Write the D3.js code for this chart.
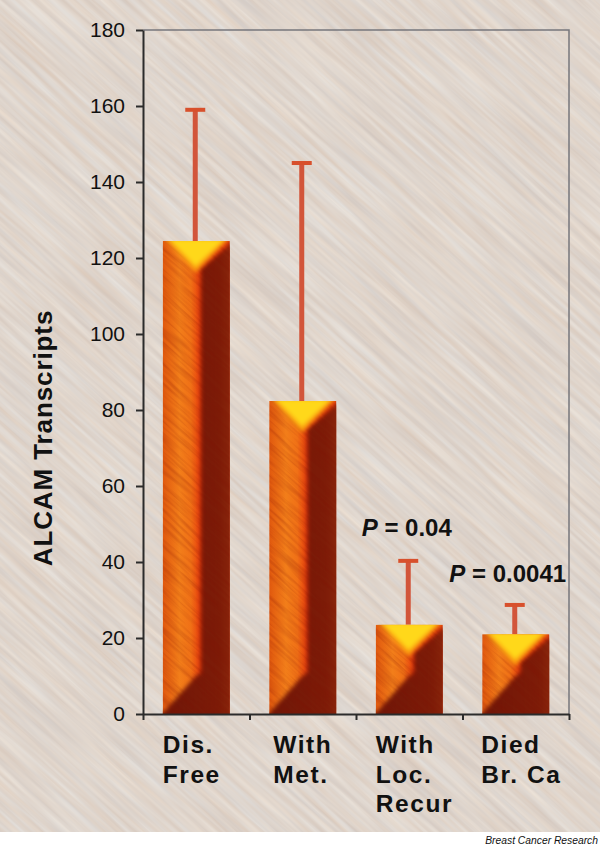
<!DOCTYPE html>
<html>
<head>
<meta charset="utf-8">
<script src="https://cdn.jsdelivr.net/npm/d3@7"></script>
<style>
	html, body { margin: 0; padding: 0; background: #fff; }
	svg { display: block; }
	text { font-family: "Liberation Sans", Arial, sans-serif; fill: #111; }
	filter { color-interpolation-filters: sRGB; }
</style>
</head>
<body>
<div id="chart"></div>
<script>
var categories = ["Dis. Free", "With Met.", "With Loc. Recur", "Died Br. Ca"];
var labelLines = [["Dis.", "Free"], ["With", "Met."], ["With", "Loc.", "Recur"], ["Died", "Br. Ca"]];
var labelShift = [0, 4, 0, -1];
var means = [124.5, 82.4, 23.5, 21];
var errorTops = [159, 145, 40.3, 28.7];
var yTicks = [0, 20, 40, 60, 80, 100, 120, 140, 160, 180];
var pLabels = [null, null, "0.04", "0.0041"];
var pShift = [0, 0, -2.5, -8];

var width = 600, height = 845, paperBottom = 832;
var margin = {top: 30, right: 31, bottom: 131, left: 143};
var innerW = width - margin.left - margin.right;
var innerH = height - margin.top - margin.bottom;

var svg = d3.select("#chart").append("svg")
	.attr("width", width)
	.attr("height", height);

var defs = svg.append("defs");

//streaky paper, turbulence stretched along one axis and then rotated
var paper = defs.append("filter").attr("id", "paper")
	.attr("filterUnits", "userSpaceOnUse")
	.attr("x", -700).attr("y", -700).attr("width", 1800).attr("height", 1800);
paper.append("feTurbulence")
	.attr("type", "fractalNoise")
	.attr("baseFrequency", "0.009 0.2")
	.attr("numOctaves", 3)
	.attr("seed", 4);
paper.append("feColorMatrix")
	.attr("type", "matrix")
	.attr("values", "0.10 0.05 0 0 0.80  0.13 0 0 0 0.77  0.14 -0.05 0 0 0.755  0 0 0 0 1");

var streak = defs.append("filter").attr("id", "streak")
	.attr("filterUnits", "userSpaceOnUse")
	.attr("x", -700).attr("y", -700).attr("width", 1800).attr("height", 1800);
streak.append("feTurbulence")
	.attr("type", "fractalNoise")
	.attr("baseFrequency", "0.02 0.35")
	.attr("numOctaves", 2)
	.attr("seed", 9);
streak.append("feColorMatrix")
	.attr("type", "matrix")
	.attr("values", "0 0 0 0 0.5  0 0 0 0 0.06  0 0 0 0 0  2.6 0 0 0 -1.05");

defs.append("filter").attr("id", "soft")
	.attr("x", "-30%").attr("y", "-30%").attr("width", "160%").attr("height", "160%")
	.append("feGaussianBlur").attr("stdDeviation", 2);

var orange = defs.append("linearGradient").attr("id", "orangeFace")
	.attr("x1", 0).attr("x2", 1).attr("y1", 0).attr("y2", 0);
orange.append("stop").attr("offset", "0%").attr("stop-color", "#e0580e");
orange.append("stop").attr("offset", "25%").attr("stop-color", "#f27e1a");
orange.append("stop").attr("offset", "42%").attr("stop-color", "#f07016");
orange.append("stop").attr("offset", "58%").attr("stop-color", "#e6380c");

var dark = defs.append("linearGradient").attr("id", "darkFace")
	.attr("x1", 0).attr("x2", 1).attr("y1", 0).attr("y2", 0);
dark.append("stop").attr("offset", "0%").attr("stop-color", "#6e1608");
dark.append("stop").attr("offset", "80%").attr("stop-color", "#7e1c08");
dark.append("stop").attr("offset", "100%").attr("stop-color", "#902c0e");

svg.append("rect")
	.attr("width", width).attr("height", paperBottom)
	.attr("fill", "#dcd4cc");
defs.append("clipPath").attr("id", "paperClip")
	.append("rect").attr("width", width).attr("height", paperBottom);
svg.append("g").attr("clip-path", "url(#paperClip)")
	.append("g").attr("transform", "rotate(42)")
	.append("rect")
	.attr("x", -700).attr("y", -700).attr("width", 1800).attr("height", 1800)
	.attr("filter", "url(#paper)");

var x = d3.scaleBand().domain(categories).range([0, innerW])
	.paddingInner(0.37).paddingOuter(0.185);
var xEdges = d3.scaleLinear().domain([0, categories.length]).range([0, innerW]);
var y = d3.scaleLinear().domain([0, 180]).range([innerH, 0]);

var g = svg.append("g")
	.attr("transform", "translate(" + margin.left + "," + margin.top + ")");

//frame top and right
g.append("path")
	.attr("d", "M0,0H" + innerW + "V" + innerH)
	.attr("fill", "none")
	.attr("stroke", "#77777c")
	.attr("stroke-width", 1.5);

//error bars go under the bar
var errs = g.selectAll(".err").data(categories).enter().append("g").attr("class", "err");
errs.append("line")
	.attr("x1", function(d) { return x(d) + x.bandwidth() / 2 - 1; })
	.attr("x2", function(d) { return x(d) + x.bandwidth() / 2 - 1; })
	.attr("y1", function(d, i) { return y(means[i]); })
	.attr("y2", function(d, i) { return y(errorTops[i]); })
	.attr("stroke", "#d2553a")
	.attr("stroke-width", 5);
errs.append("line")
	.attr("x1", function(d) { return x(d) + x.bandwidth() / 2 - 11; })
	.attr("x2", function(d) { return x(d) + x.bandwidth() / 2 + 9; })
	.attr("y1", function(d, i) { return y(errorTops[i]); })
	.attr("y2", function(d, i) { return y(errorTops[i]); })
	.attr("stroke", "#d8502c")
	.attr("stroke-width", 4);

var bars = g.selectAll(".bar").data(categories).enter().append("g").attr("class", "bar");

bars.each(function(d, i) {
	var bar = d3.select(this);
	var x0 = x(d), w = x.bandwidth(), x1 = x0 + w, mid = x0 + w * 0.57;
	var top = y(means[i]), bot = y(0);
	var clipId = "barClip" + i;
	var pts = function(list) { return list.map(function(p) { return p.join(","); }).join(" "); };

	defs.append("clipPath").attr("id", clipId)
		.append("rect").attr("x", x0).attr("y", top).attr("width", w).attr("height", bot - top);

	var inner = bar.append("g").attr("clip-path", "url(#" + clipId + ")");
	inner.append("rect")
		.attr("x", x0).attr("y", top).attr("width", w).attr("height", bot - top)
		.attr("fill", "url(#orangeFace)");

	//dark right side and the dark foot under the orange face
	inner.append("polygon")
		.attr("filter", "url(#soft)")
		.attr("points", pts([[mid, top + w * 0.42], [x1 + 6, top - 2], [x1 + 6, bot + 6], [x0 - 6, bot + 6], [x0 + w * 0.48, bot - w * 0.55], [mid, bot - w * 0.62]]))
		.attr("fill", "url(#darkFace)");

	inner.append("g").attr("transform", "rotate(42)")
		.append("rect")
		.attr("x", -700).attr("y", -700).attr("width", 1800).attr("height", 1800)
		.attr("filter", "url(#streak)")
		.attr("opacity", 0.2);

	//yellow wedge stays clean, on top of the streaks
	var wedge = inner.append("g").attr("filter", "url(#soft)");
	wedge.append("polygon")
		.attr("points", pts([[x0 + 1, top - 4], [x1 + 1, top - 4], [x0 + w * 0.49, top + w * 0.47]]))
		.attr("fill", "#fa9e10");
	wedge.append("polygon")
		.attr("points", pts([[x0 + 6, top - 2], [x1 - 5, top - 2], [x0 + w * 0.49, top + w * 0.38]]))
		.attr("fill", "#ffd81a");
});

//axes
var yAxis = d3.axisLeft(y).tickValues(yTicks).tickSize(7).tickPadding(11).tickSizeOuter(0);
var xAxis = d3.axisBottom(xEdges).ticks(categories.length).tickSize(6)
	.tickFormat("").tickSizeOuter(0);

var yG = g.append("g").call(yAxis);
yG.selectAll("path, line").attr("stroke", "#2b2b2b").attr("stroke-width", 2);
yG.selectAll("text").style("font-size", "21px").attr("fill", "#111");

var xG = g.append("g").attr("transform", "translate(0," + innerH + ")").call(xAxis);
xG.selectAll("path, line").attr("stroke", "#2b2b2b").attr("stroke-width", 2);

//category labels
g.selectAll(".cat").data(categories).enter().append("text")
	.attr("class", "cat")
	.attr("y", innerH + 39)
	.attr("font-size", 24.5)
	.attr("font-weight", "bold")
	.attr("letter-spacing", 1.6)
	.each(function(d, i) {
		var t = d3.select(this);
		labelLines[i].forEach(function(line, j) {
			t.append("tspan")
				.attr("x", x(d) + labelShift[i])
				.attr("dy", j == 0 ? 0 : 29.5)
				.text(line);
		});
	});

//P values
g.selectAll(".pval").data(categories).enter().append("text")
	.filter(function(d, i) { return pLabels[i] !== null; })
	.attr("class", "pval")
	.attr("x", function(d) { return x(d) + x.bandwidth() / 2 + pShift[categories.indexOf(d)]; })
	.attr("y", function(d) { return y(errorTops[categories.indexOf(d)]) - (d == categories[2] ? 25 : 22.5); })
	.attr("text-anchor", "middle")
	.attr("font-size", 24)
	.attr("font-weight", "bold")
	.each(function(d) {
		var t = d3.select(this);
		t.append("tspan").attr("font-style", "italic").text("P");
		t.append("tspan").text(" = " + pLabels[categories.indexOf(d)]);
	});

svg.append("text")
	.attr("transform", "translate(52,438) rotate(-90)")
	.attr("text-anchor", "middle")
	.attr("font-size", 26)
	.attr("font-weight", "bold")
	.attr("letter-spacing", 0.9)
	.text("ALCAM Transcripts");

svg.append("text")
	.attr("x", 598).attr("y", 844)
	.attr("text-anchor", "end")
	.attr("font-size", 10.3)
	.attr("font-style", "italic")
	.attr("fill", "#333")
	.text("Breast Cancer Research");
</script>
</body>
</html>
